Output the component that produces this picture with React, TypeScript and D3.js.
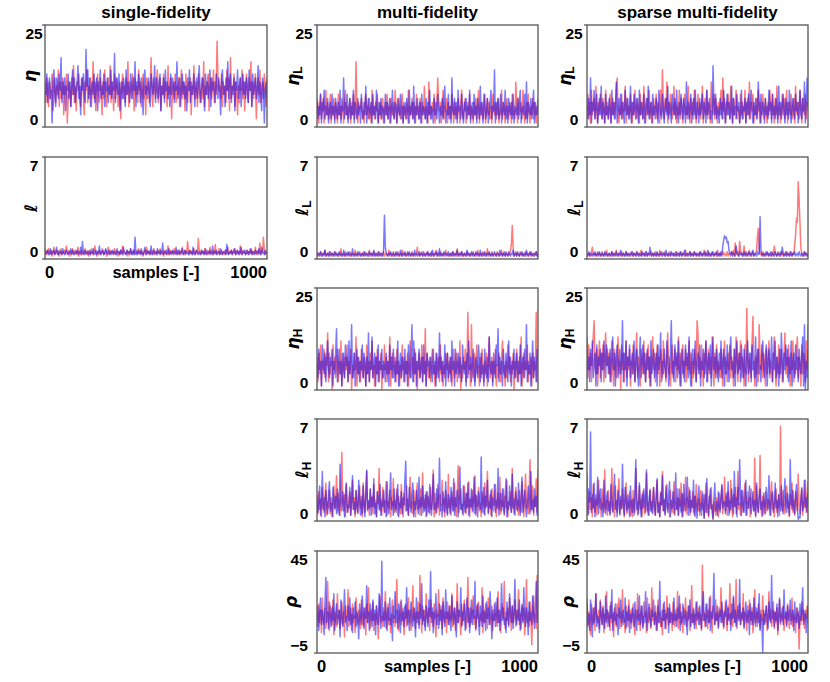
import * as d3 from 'd3';

// ---- data (250 draws per chain, two chains per panel) ----
const X_TICKS = [0, 1000];
const ETA_TICKS = [0, 25];
const ELL_TICKS = [0, 7];
const RHO_TICKS = [-5, 45];
const TITLES = ['single-fidelity', 'multi-fidelity', 'sparse multi-fidelity'];

// single-fidelity
const sfEtaRed = [
  9, 6, 12, 8, 5, 11, 7, 10, 13, 4, 9, 12, 6, 10, 8, 14, 5, 11, 7, 9, 12, 3, 10, 8, 13,
  1, 7, 11, 9, 5, 12, 8, 15, 6, 10, 4, 11, 9, 13, 7, 5, 10, 12, 8, 3, 11, 9, 14, 6, 10,
  8, 12, 5, 9, 16, 7, 11, 4, 10, 13, 8, 6, 12, 9, 3, 11, 7, 14, 10, 5, 9, 12, 8, 15, 6,
  11, 9, 4, 13, 7, 10, 12, 5, 8, 11, 2, 9, 13, 7, 10, 6, 12, 8, 16, 5, 11, 9, 7, 13, 10,
  4, 12, 8, 10, 6, 14, 9, 11, 5, 8, 13, 7, 10, 3, 12, 9, 11, 6, 10, 17, 8, 5, 12, 9, 7,
  11, 14, 6, 9, 12, 4, 10, 8, 13, 7, 11, 9, 5, 15, 8, 10, 12, 2, 9, 11, 7, 13, 6, 10, 8,
  12, 5, 9, 14, 7, 11, 10, 4, 13, 8, 6, 11, 9, 12, 3, 10, 8, 15, 7, 11, 9, 5, 13, 10, 6,
  9, 12, 7, 16, 5, 10, 8, 11, 13, 4, 9, 12, 7, 10, 14, 6, 11, 8, 21, 12, 9, 10, 7, 13, 5,
  11, 8, 10, 6, 14, 9, 12, 4, 17, 7, 10, 9, 13, 5, 11, 8, 3, 10, 6, 12, 9, 14, 7, 11, 4,
  10, 13, 8, 6, 12, 9, 16, 5, 11, 7, 10, 13, 2, 9, 12, 8, 14, 6, 10, 11, 7, 13, 9, 5, 12,
];
const sfEtaBlue = [
  11, 8, 13, 6, 10, 12, 7, 9, 1, 11, 14, 8, 5, 12, 10, 7, 13, 9, 17, 6, 11, 8, 12, 4, 10,
  9, 13, 7, 11, 5, 10, 14, 8, 12, 6, 9, 11, 15, 7, 10, 3, 12, 9, 13, 8, 6, 19, 10, 14, 7,
  12, 5, 9, 11, 8, 13, 6, 10, 12, 4, 11, 9, 14, 7, 10, 8, 13, 5, 11, 9, 12, 6, 10, 8, 14,
  7, 11, 9, 18, 6, 12, 10, 8, 13, 4, 9, 11, 7, 12, 10, 5, 14, 8, 11, 9, 6, 13, 10, 7, 12,
  9, 16, 5, 11, 8, 13, 10, 6, 12, 9, 3, 11, 14, 8, 10, 7, 12, 9, 5, 13, 11, 8, 10, 15, 6,
  12, 9, 7, 11, 13, 4, 10, 8, 12, 6, 14, 9, 11, 7, 10, 5, 13, 8, 12, 10, 6, 11, 9, 16, 7,
  10, 12, 5, 9, 13, 8, 11, 7, 10, 4, 12, 9, 14, 6, 11, 8, 10, 13, 5, 9, 12, 7, 11, 15, 8,
  6, 10, 12, 9, 4, 13, 8, 11, 7, 10, 14, 5, 12, 9, 11, 8, 6, 13, 10, 7, 12, 9, 3, 11, 14,
  8, 10, 5, 12, 9, 16, 7, 11, 13, 6, 10, 8, 12, 4, 11, 9, 14, 7, 10, 12, 5, 9, 13, 8, 11,
  7, 12, 10, 6, 14, 9, 11, 5, 13, 8, 10, 12, 7, 9, 15, 6, 11, 8, 4, 12, 10, 1, 9, 11, 7,
];
const sfEllRed = [
  0.4, 0.6, 0.3, 0.5, 0.7, 0.3, 0.4, 0.6, 0.2, 0.5, 0.8, 0.3, 0.4, 0.6, 0.3, 0.5, 0.2, 0.4, 0.7, 0.3, 0.5, 0.4, 0.6, 0.3, 0.9,
  0.4, 0.3, 0.6, 0.2, 0.5, 0.4, 0.7, 0.3, 0.5, 0.6, 0.3, 0.4, 0.8, 0.2, 0.5, 0.3, 0.6, 0.4, 0.3, 0.5, 0.7, 0.3, 0.4, 0.6, 0.2,
  0.5, 0.3, 0.7, 0.4, 0.3, 0.6, 0.9, 0.4, 0.2, 0.5, 0.3, 0.6, 0.4, 0.3, 0.7, 0.5, 0.3, 0.4, 0.6, 0.2, 0.5, 0.8, 0.3, 0.4, 0.6,
  0.3, 0.5, 0.4, 0.7, 0.3, 0.6, 0.4, 0.2, 0.5, 0.3, 0.6, 0.4, 0.9, 0.3, 0.5, 0.4, 0.3, 0.6, 0.2, 0.5, 0.4, 0.7, 0.3, 0.5, 0.4,
  0.6, 0.3, 0.4, 0.5, 0.3, 0.7, 0.4, 0.6, 0.3, 0.5, 0.2, 0.4, 0.6, 0.3, 0.8, 0.4, 0.5, 0.3, 0.6, 0.4, 0.3, 0.5, 0.7, 0.3, 0.4,
  0.5, 0.3, 0.6, 0.4, 0.7, 0.3, 0.5, 0.4, 0.2, 0.6, 0.4, 0.3, 0.5, 0.9, 0.3, 0.4, 0.6, 0.3, 0.5, 0.4, 0.7, 0.3, 0.4, 0.6, 0.3,
  0.4, 0.6, 0.3, 0.5, 0.8, 0.4, 0.3, 0.6, 0.4, 0.5, 1.2, 0.4, 0.3, 0.6, 0.4, 0.5, 0.3, 0.7, 0.4, 0.3, 0.6, 0.4, 1.4, 0.5, 0.3,
  0.6, 0.4, 0.5, 0.3, 0.7, 0.4, 0.3, 0.6, 0.5, 0.3, 0.8, 0.4, 0.5, 0.3, 0.6, 0.4, 1.0, 0.3, 0.5, 0.4, 0.7, 0.3, 0.4, 0.6, 0.3,
  0.5, 0.4, 0.3, 0.6, 0.4, 0.8, 0.3, 0.5, 0.4, 0.6, 0.3, 0.5, 0.7, 0.4, 0.3, 0.6, 0.4, 0.5, 0.3, 0.9, 0.4, 0.3, 0.6, 0.5, 0.4,
  0.3, 0.6, 0.4, 0.5, 0.3, 0.7, 0.4, 0.6, 0.3, 0.5, 0.4, 0.8, 0.3, 0.5, 0.6, 0.4, 1.1, 0.3, 0.5, 0.4, 1.5, 0.6, 0.3, 0.4, 0.5,
];
const sfEllBlue = [
  0.3, 0.5, 0.4, 0.6, 0.3, 0.4, 0.7, 0.3, 0.5, 0.4, 0.6, 0.3, 0.5, 0.8, 0.4, 0.3, 0.6, 0.4, 0.5, 0.3, 0.7, 0.4, 0.3, 0.5, 0.6,
  0.4, 0.3, 0.5, 0.4, 0.7, 0.3, 0.6, 0.4, 0.3, 0.5, 0.4, 0.6, 0.3, 0.5, 0.4, 0.8, 0.3, 1.2, 0.4, 0.3, 0.6, 0.4, 0.5, 0.3, 0.4,
  0.6, 0.3, 0.5, 0.4, 0.7, 0.3, 0.4, 0.6, 0.3, 0.5, 0.4, 0.9, 0.3, 0.5, 0.4, 0.6, 0.3, 0.4, 0.7, 0.5, 0.3, 0.4, 0.6, 0.3, 0.5,
  0.4, 0.6, 0.3, 0.5, 0.4, 0.3, 0.7, 0.4, 0.5, 0.3, 0.6, 0.4, 0.3, 0.8, 0.5, 0.4, 0.3, 0.6, 0.4, 0.5, 0.3, 0.7, 0.4, 0.3, 0.6,
  0.3, 1.5, 0.4, 0.3, 0.6, 0.4, 0.5, 0.3, 0.7, 0.4, 0.3, 0.5, 0.8, 0.4, 0.3, 0.6, 0.4, 0.5, 0.3, 0.9, 0.4, 0.3, 0.6, 0.4, 0.5,
  0.3, 0.7, 0.4, 0.5, 0.3, 0.6, 0.4, 1.1, 0.3, 0.5, 0.4, 0.6, 0.3, 0.4, 0.7, 0.3, 0.5, 0.4, 0.6, 0.3, 0.5, 0.4, 0.8, 0.3, 0.4,
  0.6, 0.3, 0.5, 0.4, 0.7, 0.3, 0.4, 0.6, 0.3, 0.5, 0.4, 0.3, 0.6, 0.4, 0.5, 0.3, 0.8, 0.4, 0.3, 0.5, 0.6, 0.4, 0.3, 0.5, 0.4,
  0.3, 0.6, 0.4, 0.5, 0.3, 0.7, 0.4, 0.3, 0.5, 0.4, 0.6, 0.3, 0.4, 0.9, 0.3, 0.5, 0.4, 0.6, 0.3, 0.4, 0.5, 0.3, 0.7, 0.4, 0.3,
  0.5, 0.4, 0.6, 0.3, 1.0, 0.4, 0.3, 0.5, 0.4, 0.6, 0.3, 0.5, 0.4, 0.7, 0.3, 0.4, 0.6, 0.3, 0.5, 0.4, 0.8, 0.3, 0.5, 0.4, 0.6,
  0.3, 0.4, 0.6, 0.3, 0.5, 0.4, 0.7, 0.3, 0.5, 0.4, 0.3, 0.6, 0.4, 0.5, 0.3, 0.7, 0.4, 0.3, 0.8, 0.5, 0.4, 0.3, 0.6, 0.4, 0.5,
];

// multi-fidelity
const mfEtaLRed = [
  3, 6, 1, 5, 8, 2, 4, 7, 1, 5, 9, 3, 6, 2, 4, 8, 1, 5, 3, 7, 2, 6, 4, 1, 8,
  3, 5, 2, 7, 4, 1, 6, 9, 3, 5, 2, 4, 7, 1, 6, 3, 8, 2, 5, 16, 3, 1, 6, 4, 5,
  7, 2, 4, 1, 6, 8, 3, 5, 2, 7, 4, 1, 9, 3, 5, 2, 6, 4, 8, 1, 3, 6, 2, 5, 7,
  1, 4, 6, 3, 8, 2, 5, 1, 7, 4, 3, 6, 2, 9, 5, 1, 4, 7, 3, 2, 6, 8, 1, 5, 3,
  6, 2, 4, 9, 1, 5, 3, 7, 2, 6, 4, 1, 8, 3, 5, 2, 7, 4, 1, 6, 3, 10, 2, 5, 4,
  1, 11, 3, 5, 2, 6, 4, 8, 1, 3, 5, 12, 7, 4, 6, 1, 3, 9, 2, 5, 4, 7, 1, 6, 3,
  5, 2, 8, 4, 1, 6, 3, 5, 2, 7, 4, 1, 6, 9, 3, 2, 5, 7, 1, 4, 6, 3, 8, 2, 5,
  4, 1, 6, 3, 7, 2, 5, 9, 1, 4, 6, 3, 2, 8, 5, 1, 4, 7, 3, 6, 2, 5, 1, 8, 4,
  3, 6, 2, 5, 7, 1, 4, 3, 9, 2, 6, 5, 1, 4, 7, 3, 2, 6, 5, 1, 8, 3, 4, 2, 11,
  5, 1, 7, 3, 4, 6, 2, 9, 5, 1, 3, 6, 2, 8, 4, 1, 5, 3, 7, 2, 6, 4, 1, 5, 3,
];
const mfEtaLBlue = [
  7, 2, 5, 3, 8, 1, 6, 4, 9, 2, 5, 3, 7, 1, 4, 6, 2, 8, 3, 5, 1, 7, 4, 2, 6,
  3, 9, 1, 5, 4, 12, 2, 6, 3, 8, 1, 4, 7, 2, 5, 3, 9, 1, 6, 4, 2, 7, 3, 5, 1,
  8, 4, 2, 6, 3, 10, 1, 5, 7, 2, 4, 6, 1, 8, 3, 5, 2, 9, 4, 1, 6, 3, 7, 2, 5,
  4, 1, 8, 3, 6, 2, 5, 7, 1, 4, 9, 3, 2, 6, 5, 1, 7, 4, 3, 8, 2, 5, 1, 6, 4,
  2, 7, 5, 1, 9, 3, 4, 6, 2, 10, 1, 5, 3, 7, 4, 2, 6, 1, 8, 3, 5, 4, 2, 7, 1,
  6, 3, 9, 2, 5, 4, 1, 7, 3, 6, 2, 8, 4, 1, 5, 3, 7, 2, 6, 10, 1, 4, 3, 8, 2,
  5, 1, 12, 4, 3, 7, 2, 6, 1, 9, 4, 5, 2, 8, 3, 1, 6, 4, 7, 2, 5, 3, 9, 1, 4,
  6, 2, 8, 3, 5, 1, 7, 4, 2, 10, 3, 6, 1, 5, 8, 2, 4, 7, 1, 3, 6, 9, 2, 5, 4,
  14, 1, 6, 3, 7, 2, 5, 8, 1, 4, 6, 3, 9, 2, 5, 1, 7, 4, 3, 6, 2, 8, 1, 5, 4,
  3, 7, 2, 6, 9, 1, 4, 5, 3, 8, 2, 11, 1, 6, 4, 3, 7, 2, 5, 9, 1, 6, 3, 4, 7,
];
const mfEllLRed = [
  0.3, 0.2, 0.4, 0.3, 0.5, 0.2, 0.3, 0.4, 0.2, 0.6, 0.3, 0.2, 0.4, 0.3, 0.2, 0.5, 0.3, 0.4, 0.2, 0.3, 0.5, 0.2, 0.4, 0.3, 0.2,
  0.4, 0.3, 0.7, 0.2, 0.3, 0.4, 0.2, 0.5, 0.3, 0.2, 0.4, 0.3, 0.5, 0.2, 0.3, 0.4, 0.2, 0.3, 0.6, 0.2, 0.4, 0.3, 0.2, 0.5, 0.3,
  0.2, 0.4, 0.3, 0.2, 0.5, 0.3, 0.4, 0.2, 0.3, 0.6, 0.2, 0.3, 0.4, 0.2, 0.5, 0.3, 0.2, 0.4, 0.3, 0.2, 0.5, 0.3, 0.4, 0.2, 0.3,
  0.5, 0.2, 0.3, 0.4, 0.2, 0.3, 0.6, 0.2, 0.4, 0.3, 0.2, 0.5, 0.3, 0.2, 0.4, 0.3, 0.5, 0.2, 0.3, 0.4, 0.2, 0.6, 0.3, 0.2, 0.4,
  0.3, 0.2, 0.5, 0.3, 0.4, 0.2, 0.3, 0.5, 0.2, 0.4, 0.3, 0.2, 0.4, 0.8, 0.3, 0.2, 0.4, 0.3, 0.5, 0.2, 0.3, 0.4, 0.2, 0.3, 0.5,
  0.2, 0.4, 0.3, 0.2, 0.5, 0.3, 0.2, 0.4, 0.3, 0.6, 0.2, 0.3, 0.4, 0.2, 0.5, 0.3, 0.2, 0.4, 0.3, 0.2, 0.6, 0.3, 0.4, 0.2, 0.3,
  0.4, 0.2, 0.3, 0.5, 0.2, 0.4, 0.3, 0.2, 0.7, 0.3, 0.2, 0.4, 0.3, 0.5, 0.2, 0.3, 0.4, 0.2, 0.3, 0.5, 0.2, 0.4, 0.3, 0.2, 0.4,
  0.3, 0.5, 0.2, 0.3, 0.4, 0.2, 0.6, 0.3, 0.2, 0.4, 0.3, 0.2, 0.5, 0.3, 0.4, 0.2, 0.3, 0.7, 0.2, 0.4, 0.3, 0.2, 0.5, 0.3, 0.2,
  0.4, 0.3, 0.2, 0.5, 0.3, 0.4, 0.2, 0.3, 0.6, 0.2, 0.4, 0.3, 0.2, 0.5, 0.3, 0.2, 0.4, 0.3, 0.6, 1.0, 2.3, 0.8, 0.2, 0.3, 0.5,
  0.2, 0.4, 0.3, 0.2, 0.5, 0.3, 0.2, 0.4, 0.3, 0.2, 0.5, 0.3, 0.4, 0.2, 0.3, 0.5, 0.2, 0.4, 0.3, 0.2, 0.4, 0.3, 0.5, 0.2, 0.3,
];
const mfEllLBlue = [
  0.2, 0.4, 0.3, 0.2, 0.5, 0.3, 0.2, 0.4, 0.3, 0.6, 0.2, 0.3, 0.4, 0.2, 0.5, 0.3, 0.2, 0.4, 0.3, 0.2, 0.5, 0.3, 0.4, 0.2, 0.3,
  0.5, 0.2, 0.4, 0.3, 0.2, 0.6, 0.3, 0.2, 0.4, 0.3, 0.5, 0.2, 0.3, 0.4, 0.2, 0.7, 0.3, 0.2, 0.4, 0.3, 0.2, 0.5, 0.3, 0.4, 0.2,
  0.3, 0.4, 0.2, 0.5, 0.3, 0.2, 0.4, 0.3, 0.2, 0.5, 0.3, 0.4, 0.2, 0.3, 0.6, 0.2, 0.4, 0.3, 0.2, 0.5, 0.3, 0.2, 0.4, 0.3, 0.2,
  0.6, 3.0, 0.8, 0.4, 0.3, 0.2, 0.4, 0.3, 0.5, 0.2, 0.3, 0.4, 0.2, 0.3, 0.5, 0.2, 0.4, 0.3, 0.2, 0.6, 0.3, 0.2, 0.4, 0.3, 0.5,
  0.2, 0.3, 0.4, 0.2, 0.5, 0.3, 0.2, 0.4, 0.3, 0.2, 0.6, 0.3, 0.4, 0.2, 0.3, 0.5, 0.2, 0.4, 0.3, 0.2, 0.5, 0.3, 0.2, 0.4, 0.3,
  0.5, 0.2, 0.3, 0.4, 0.2, 0.6, 0.3, 0.2, 0.4, 0.3, 0.5, 0.2, 0.3, 0.7, 0.2, 0.4, 0.3, 0.2, 0.5, 0.3, 0.4, 0.2, 0.3, 0.5, 0.2,
  0.3, 0.4, 0.2, 0.5, 0.3, 0.2, 0.4, 0.3, 0.6, 0.2, 0.3, 0.4, 0.2, 0.5, 0.3, 0.2, 0.4, 0.3, 0.2, 0.6, 0.3, 0.4, 0.2, 0.3, 0.5,
  0.2, 0.4, 0.3, 0.2, 0.5, 0.3, 0.4, 0.2, 0.3, 0.6, 0.2, 0.4, 0.3, 0.2, 0.5, 0.3, 0.2, 0.4, 0.3, 0.5, 0.2, 0.3, 0.4, 0.2, 0.3,
  0.5, 0.3, 0.2, 0.4, 0.3, 0.2, 0.6, 0.3, 0.4, 0.2, 0.3, 0.5, 0.2, 0.4, 0.3, 0.2, 0.5, 0.3, 0.2, 0.4, 0.3, 0.6, 0.2, 0.3, 0.4,
  0.2, 0.5, 0.3, 0.2, 0.4, 0.3, 0.5, 0.2, 0.3, 0.4, 0.2, 0.6, 0.3, 0.2, 0.4, 0.3, 0.5, 0.2, 0.3, 0.4, 0.2, 0.3, 0.5, 0.2, 0.4,
];
const mfEtaHRed = [
  6, 2, 9, 4, 11, 1, 7, 5, 10, 3, 8, 6, 14, 2, 9, 4, 7, 0, 11, 5, 8, 3, 6, 10, 2,
  7, 4, 12, 1, 6, 9, 3, 8, 5, 11, 2, 7, 4, 10, 0, 6, 3, 9, 5, 13, 1, 8, 4, 7, 2,
  10, 5, 3, 8, 6, 1, 11, 4, 7, 2, 9, 5, 12, 3, 6, 1, 8, 4, 10, 2, 7, 5, 9, 0, 6,
  3, 11, 5, 8, 2, 7, 4, 13, 1, 6, 9, 3, 5, 8, 2, 10, 4, 7, 1, 6, 3, 11, 5, 8, 2,
  7, 4, 9, 1, 6, 12, 3, 5, 8, 2, 10, 4, 7, 0, 6, 9, 3, 5, 11, 2, 8, 4, 15, 1, 9,
  5, 3, 8, 2, 7, 10, 4, 6, 1, 9, 3, 5, 8, 2, 11, 4, 7, 1, 6, 3, 9, 5, 9, 2, 7,
  4, 8, 1, 6, 10, 3, 5, 9, 2, 7, 4, 12, 0, 6, 3, 8, 5, 10, 2, 7, 19, 4, 6, 1, 16,
  5, 3, 9, 2, 7, 11, 4, 6, 1, 8, 3, 10, 5, 2, 7, 4, 9, 1, 6, 13, 3, 5, 8, 2, 7,
  4, 10, 1, 6, 3, 9, 5, 2, 8, 12, 4, 6, 1, 7, 3, 11, 5, 8, 2, 6, 4, 9, 0, 7, 3,
  10, 5, 2, 8, 4, 13, 1, 6, 9, 3, 7, 5, 11, 2, 6, 4, 8, 1, 9, 3, 7, 5, 19, 2, 6,
];
const mfEtaHBlue = [
  8, 3, 10, 5, 7, 1, 11, 6, 4, 9, 2, 7, 12, 5, 3, 8, 6, 10, 1, 7, 4, 9, 15, 2, 6,
  10, 4, 7, 1, 9, 5, 3, 11, 6, 8, 2, 12, 4, 7, 16, 3, 5, 9, 1, 6, 10, 4, 8, 2, 7,
  5, 11, 3, 9, 6, 1, 8, 4, 14, 2, 7, 5, 13, 3, 6, 9, 1, 8, 4, 11, 2, 7, 5, 10, 3,
  7, 6, 2, 9, 4, 7, 1, 11, 5, 8, 3, 10, 6, 2, 7, 4, 12, 1, 5, 9, 3, 8, 6, 2, 10,
  4, 7, 1, 11, 5, 3, 8, 16, 2, 12, 4, 9, 1, 7, 5, 10, 3, 6, 8, 2, 11, 4, 7, 1, 9,
  6, 7, 3, 8, 5, 2, 10, 4, 7, 1, 9, 6, 3, 14, 5, 8, 2, 7, 4, 11, 1, 6, 9, 3, 5,
  8, 2, 12, 5, 7, 1, 10, 4, 6, 9, 3, 8, 5, 2, 11, 6, 4, 7, 1, 9, 3, 12, 5, 8, 2,
  6, 10, 4, 1, 8, 5, 3, 11, 7, 2, 9, 4, 6, 1, 10, 5, 3, 8, 2, 13, 6, 4, 7, 1, 9,
  5, 3, 11, 6, 15, 2, 8, 4, 7, 1, 10, 5, 3, 9, 6, 2, 12, 4, 8, 1, 7, 5, 10, 3, 6,
  9, 2, 7, 4, 11, 1, 6, 8, 3, 10, 5, 16, 2, 7, 4, 9, 1, 6, 12, 3, 8, 5, 2, 10, 7,
];
const mfEllHRed = [
  1.2, 0.5, 2.0, 0.8, 1.5, 0.3, 2.3, 1.0, 0.6, 1.7, 2.6, 0.4, 1.3, 0.9, 2.1, 0.5, 1.6, 1.1, 0.3, 2.4, 0.8, 1.4, 3.1, 0.6, 1.9,
  1.0, 0.4, 2.2, 4.7, 1.2, 0.7, 1.8, 0.3, 2.5, 1.1, 0.6, 1.5, 2.0, 0.4, 1.3, 2.8, 0.8, 1.6, 0.3, 2.1, 1.0, 0.5, 1.7, 2.4, 0.9,
  1.4, 0.3, 2.6, 1.1, 0.6, 1.9, 3.4, 0.8, 1.3, 0.4, 2.2, 1.0, 1.7, 0.5, 2.5, 0.9, 1.4, 0.3, 2.0, 1.2, 3.6, 0.7, 1.5, 0.4, 2.3,
  1.1, 0.6, 1.8, 2.7, 0.4, 1.3, 0.9, 2.1, 0.3, 1.6, 1.0, 2.9, 0.6, 1.4, 0.8, 2.2, 0.4, 1.7, 1.2, 0.5, 2.5, 1.0, 0.3, 1.9, 1.3,
  0.7, 2.4, 1.1, 0.4, 1.6, 3.0, 0.9, 1.3, 0.5, 2.1, 1.2, 0.3, 1.8, 2.6, 0.8, 1.4, 0.4, 2.2, 1.0, 3.3, 0.6, 1.5, 0.9, 2.0, 0.4,
  1.7, 1.1, 0.5, 2.3, 0.8, 1.4, 3.5, 0.3, 1.9, 1.0, 0.6, 2.5, 1.3, 0.4, 1.8, 1.1, 2.8, 0.7, 1.5, 0.3, 2.1, 1.2, 0.5, 3.2, 0.9,
  1.6, 0.4, 2.0, 1.2, 0.7, 2.6, 1.0, 0.3, 1.8, 3.8, 0.6, 1.4, 2.2, 0.8, 1.1, 0.4, 2.4, 1.3, 0.5, 1.9, 1.0, 2.7, 0.3, 1.5, 0.9,
  2.1, 0.6, 1.3, 3.1, 0.4, 1.7, 1.0, 2.3, 0.7, 1.2, 0.3, 2.0, 1.5, 0.5, 2.6, 0.9, 1.4, 3.4, 0.6, 1.1, 1.8, 0.4, 2.2, 1.0, 0.7,
  1.5, 2.5, 0.3, 1.2, 1.9, 0.8, 3.0, 0.5, 1.4, 1.0, 2.2, 0.4, 1.7, 0.9, 2.8, 0.3, 1.3, 1.1, 2.0, 0.6, 3.6, 1.0, 0.5, 1.6, 2.3,
  0.8, 1.4, 0.4, 2.1, 1.1, 0.6, 2.7, 1.3, 0.3, 1.8, 3.2, 0.9, 1.5, 0.5, 2.0, 4.2, 0.7, 1.2, 2.4, 0.4, 1.6, 1.0, 2.9, 0.6, 3.5,
];
const mfEllHBlue = [
  1.8, 0.6, 1.3, 2.4, 0.4, 1.1, 3.4, 0.8, 1.6, 0.3, 2.1, 1.0, 0.5, 1.9, 2.7, 0.7, 1.2, 0.3, 2.3, 1.4, 0.9, 1.7, 0.5, 2.2, 1.0,
  0.4, 3.9, 1.2, 0.7, 2.0, 1.4, 0.3, 1.8, 2.6, 0.6, 1.1, 0.9, 2.3, 0.4, 1.5, 3.1, 0.8, 1.3, 0.5, 2.1, 1.0, 0.6, 2.8, 1.2, 0.4,
  1.7, 0.5, 2.4, 1.1, 0.3, 1.9, 3.5, 0.7, 1.4, 0.9, 2.2, 0.4, 1.6, 1.0, 2.9, 0.5, 1.2, 0.3, 2.0, 1.5, 0.8, 2.5, 0.4, 1.3, 1.0,
  2.1, 0.6, 1.4, 0.3, 2.7, 1.1, 0.5, 1.8, 3.3, 0.8, 1.3, 0.4, 2.2, 1.0, 0.6, 1.7, 2.5, 0.3, 1.2, 0.9, 2.0, 0.5, 1.6, 1.1, 2.8,
  4.1, 0.7, 1.5, 0.4, 2.3, 1.0, 0.6, 1.9, 2.6, 0.3, 1.3, 0.8, 2.1, 1.2, 0.5, 3.0, 0.9, 1.6, 0.4, 2.4, 1.1, 0.7, 1.8, 0.3, 2.0,
  1.4, 0.6, 2.5, 1.0, 0.4, 1.7, 3.2, 0.8, 1.2, 0.5, 2.2, 0.9, 1.5, 4.3, 0.7, 1.1, 0.3, 2.0, 1.4, 0.6, 2.7, 1.0, 0.4, 1.8, 1.2,
  0.5, 2.3, 1.3, 0.7, 2.9, 0.4, 1.6, 1.0, 2.1, 0.3, 1.4, 3.7, 0.8, 1.2, 0.5, 2.4, 1.1, 0.6, 1.9, 0.9, 2.6, 0.4, 1.5, 1.0, 2.2,
  0.7, 1.3, 3.0, 0.5, 1.8, 1.1, 0.3, 2.0, 1.4, 0.8, 4.4, 0.6, 1.2, 2.3, 0.4, 1.7, 1.0, 2.8, 0.5, 1.3, 0.9, 2.1, 0.3, 1.6, 1.1,
  2.5, 0.6, 1.4, 0.9, 3.6, 0.4, 1.2, 1.9, 0.7, 2.2, 1.0, 0.5, 1.7, 2.9, 0.3, 1.3, 0.8, 2.4, 1.1, 0.6, 3.2, 0.9, 1.5, 0.4, 2.0,
  1.2, 0.7, 2.6, 1.0, 0.4, 1.8, 3.0, 0.6, 1.3, 2.1, 0.9, 0.3, 1.6, 2.4, 1.1, 0.5, 3.4, 0.8, 1.4, 0.6, 2.2, 1.0, 1.7, 0.4, 2.8,
];
const mfRhoRed = [
  13, 8, 19, 10, 16, 5, 22, 12, 9, 17, 7, 14, 30, 11, 6, 18, 13, 9, 21, 4, 15, 11, 8, 24, 12,
  16, 7, 13, 20, 9, 15, 3, 18, 11, 14, 26, 8, 12, 17, 6, 19, 10, 13, 5, 22, 14, 9, 16, 11, 7,
  21, 12, 8, 17, 14, 4, 19, 10, 27, 13, 7, 16, 11, 20, 6, 14, 9, 18, 12, 2, 15, 23, 10, 13, 8,
  17, 11, 25, 7, 14, 19, 9, 12, 5, 16, 21, 10, 13, 8, 18, 31, 11, 6, 15, 20, 9, 13, 17, 4, 12,
  19, 8, 14, 22, 10, 16, 6, 13, 28, 11, 17, 7, 15, 12, 20, 9, 33, 14, 5, 18, 11, 16, 8, 24, 13,
  10, 17, 6, 21, 12, 15, 8, 19, 11, 3, 16, 13, 26, 9, 14, 18, 7, 22, 12, 10, 15, 5, 20, 13, 9,
  18, 11, 24, 8, 14, 17, 6, 13, 29, 10, 16, 12, 4, 19, 9, 15, 21, 11, 7, 14, 32, 12, 8, 17, 10,
  15, 23, 9, 13, 6, 18, 12, 20, 8, 14, 11, 27, 5, 16, 10, 19, 13, 7, 22, 15, 9, 12, 18, 6, 14,
  11, 20, 13, 8, 25, 10, 16, 5, 14, 19, 12, 30, 7, 15, 11, 17, 9, 22, 13, 6, 18, 10, 14, 21, 8,
  16, 12, 26, 9, 14, 7, 19, 11, 17, 4, 13, 31, 10, 15, 8, 20, 12, -1, 16, 23, 10, 14, 7, 33, 12,
];
const mfRhoBlue = [
  11, 18, 6, 14, 22, 9, 16, 12, 4, 19, 32, 10, 15, 7, 20, 13, 8, 17, 11, 24, 6, 14, 19, 9, 12,
  16, 3, 21, 12, 8, 15, 26, 10, 13, 6, 18, 11, 22, 9, 14, 5, 17, 12, 20, 8, 15, 11, 2, 19, 13,
  9, 23, 14, 7, 17, 12, 28, 10, 15, 6, 19, 13, 8, 21, 11, 16, 4, 18, 12, 9, 24, 14, 7, 40, 11,
  15, 8, 20, 13, 6, 17, 11, 22, 9, 14, 1, 18, 12, 25, 10, 16, 7, 19, 13, 5, 21, 11, 15, 8, 18,
  12, 27, 9, 16, 6, 14, 20, 11, 8, 17, 13, 3, 22, 10, 15, 7, 19, 12, 29, 9, 16, 11, 6, 18, 14,
  8, 21, 13, 35, 10, 17, 5, 15, 12, 24, 9, 14, 7, 19, 11, 16, 4, 20, 13, 8, 26, 12, 15, 9, 18,
  11, 6, 23, 14, 9, 17, 12, 3, 20, 10, 16, 13, 27, 8, 15, 11, 19, 6, 14, 22, 10, 17, 5, 13, 21,
  9, 16, 12, 30, 7, 14, 19, 11, 4, 18, 13, 8, 23, 10, 15, 6, 20, 12, 17, 9, 25, 14, 2, 16, 11,
  19, 8, 13, 22, 10, 16, 6, 14, 29, 11, 17, 9, 12, 5, 20, 13, 8, 24, 15, 10, 18, 7, 14, 31, 12,
  9, 16, 11, 21, 6, 14, 18, 10, 27, 13, 8, 17, 12, 4, 20, 11, 15, 9, 23, 13, 7, 18, 30, 10, 14,
];

// sparse multi-fidelity
const spEtaLRed = [
  4, 8, 2, 6, 1, 9, 3, 5, 7, 2, 10, 4, 1, 6, 3, 8, 5, 2, 7, 4, 1, 9, 3, 6, 2,
  5, 8, 1, 4, 7, 3, 6, 2, 9, 12, 4, 1, 5, 3, 8, 2, 6, 4, 10, 1, 7, 3, 5, 2, 8,
  4, 1, 6, 3, 9, 5, 2, 7, 4, 1, 8, 3, 6, 2, 10, 5, 1, 4, 7, 3, 9, 2, 6, 4, 1,
  7, 3, 5, 8, 2, 6, 4, 1, 9, 3, 14, 5, 2, 7, 4, 11, 1, 6, 3, 8, 5, 2, 4, 10, 3,
  6, 1, 5, 3, 9, 2, 7, 4, 1, 6, 8, 3, 5, 2, 10, 4, 1, 7, 3, 6, 2, 9, 5, 1, 4,
  8, 3, 6, 2, 5, 10, 1, 4, 7, 3, 9, 2, 6, 4, 1, 11, 5, 3, 8, 2, 7, 4, 1, 6, 3,
  5, 9, 2, 12, 4, 7, 1, 6, 3, 8, 5, 2, 10, 4, 1, 7, 3, 6, 9, 2, 5, 4, 1, 8, 3,
  6, 2, 4, 9, 1, 5, 7, 3, 11, 2, 6, 4, 8, 1, 5, 3, 7, 2, 9, 4, 6, 1, 3, 8, 5,
  2, 7, 4, 1, 6, 3, 9, 5, 2, 8, 4, 1, 7, 3, 10, 2, 5, 6, 1, 4, 8, 3, 7, 2, 5,
  9, 1, 4, 6, 3, 8, 2, 5, 7, 1, 10, 4, 3, 6, 2, 9, 5, 1, 7, 4, 3, 8, 2, 6, 4,
];
const spEtaLBlue = [
  5, 2, 7, 3, 12, 1, 6, 4, 9, 2, 5, 8, 1, 4, 7, 3, 10, 2, 6, 4, 1, 8, 3, 5, 2,
  7, 4, 1, 9, 3, 6, 2, 5, 11, 1, 4, 7, 3, 8, 2, 6, 4, 1, 9, 5, 3, 7, 2, 4, 10,
  1, 6, 3, 8, 4, 2, 7, 5, 1, 9, 3, 6, 4, 2, 8, 1, 5, 7, 3, 10, 2, 4, 6, 1, 8,
  3, 5, 2, 7, 4, 1, 9, 6, 3, 2, 8, 4, 1, 5, 7, 3, 10, 2, 6, 4, 1, 8, 5, 3, 7,
  2, 9, 4, 1, 6, 3, 8, 5, 2, 7, 4, 1, 11, 3, 6, 2, 5, 8, 1, 4, 7, 3, 9, 2, 6,
  4, 1, 7, 3, 5, 8, 2, 6, 4, 1, 9, 3, 5, 7, 2, 4, 1, 15, 6, 3, 8, 2, 5, 4, 1,
  7, 3, 6, 2, 9, 4, 1, 5, 8, 3, 6, 2, 4, 10, 1, 7, 3, 5, 2, 8, 4, 6, 1, 3, 9,
  2, 5, 4, 7, 1, 6, 3, 8, 2, 5, 9, 4, 1, 6, 3, 7, 2, 4, 11, 5, 1, 8, 3, 6, 4,
  1, 7, 3, 5, 2, 9, 4, 6, 1, 8, 3, 5, 2, 7, 4, 1, 10, 3, 6, 2, 5, 8, 4, 1, 7,
  3, 6, 2, 9, 4, 1, 5, 7, 3, 2, 8, 4, 6, 1, 5, 9, 3, 2, 7, 4, 11, 1, 6, 12, 5,
];
const spEllLRed = [
  0.3, 0.2, 0.4, 0.3, 0.2, 0.5, 0.8, 0.3, 0.2, 0.4, 0.3, 0.2, 0.5, 0.3, 0.4, 0.2, 0.3, 0.5, 0.2, 0.3, 0.4, 0.2, 0.6, 0.3, 0.2,
  0.4, 0.3, 0.2, 0.5, 0.3, 0.2, 0.4, 0.3, 0.6, 0.2, 0.3, 0.4, 0.2, 0.3, 0.5, 0.2, 0.4, 0.3, 0.2, 0.5, 0.3, 0.2, 0.4, 0.3, 0.2,
  0.5, 0.3, 0.2, 0.4, 0.3, 0.2, 0.5, 0.3, 0.4, 0.2, 0.3, 0.6, 0.2, 0.3, 0.4, 0.2, 0.5, 0.3, 0.2, 0.4, 0.3, 0.2, 0.5, 0.3, 0.4,
  0.2, 0.3, 0.5, 0.2, 0.4, 0.3, 0.2, 0.6, 0.3, 0.2, 0.4, 0.3, 0.5, 0.2, 0.3, 0.4, 0.2, 0.3, 0.5, 0.2, 0.4, 0.3, 0.2, 0.4, 0.3,
  0.2, 0.5, 0.3, 0.4, 0.2, 0.3, 0.5, 0.2, 0.4, 0.3, 0.2, 0.6, 0.3, 0.2, 0.4, 0.3, 0.5, 0.2, 0.3, 0.4, 0.2, 0.5, 0.3, 0.2, 0.4,
  0.3, 0.2, 0.5, 0.3, 0.4, 0.2, 0.3, 0.6, 0.2, 0.4, 0.3, 0.2, 0.5, 0.3, 0.2, 0.4, 0.3, 0.5, 0.2, 0.3, 0.4, 0.2, 0.6, 0.3, 0.2,
  0.4, 0.3, 0.2, 0.5, 0.3, 0.4, 0.2, 0.3, 0.5, 0.2, 0.4, 0.3, 0.2, 0.5, 0.3, 0.6, 0.2, 1.1, 0.4, 0.3, 0.5, 0.2, 1.2, 0.6, 0.3,
  0.4, 0.2, 0.9, 0.3, 0.5, 0.2, 0.4, 0.3, 0.6, 0.2, 0.3, 0.5, 0.4, 0.2, 0.3, 0.4, 0.6, 1.5, 2.1, 0.7, 0.3, 0.4, 0.2, 0.5, 0.3,
  0.2, 0.4, 0.3, 0.5, 0.2, 0.3, 0.4, 0.2, 0.3, 0.5, 0.2, 0.9, 0.4, 0.3, 0.2, 0.5, 0.3, 0.4, 0.2, 0.3, 0.5, 0.2, 0.4, 0.3, 0.2,
  0.5, 0.3, 0.4, 0.2, 0.3, 0.5, 0.2, 0.4, 0.3, 1.0, 1.6, 2.8, 2.5, 5.3, 4.0, 2.4, 0.7, 0.4, 0.2, 0.3, 0.5, 0.2, 0.4, 0.3, 0.2,
];
const spEllLBlue = [
  0.2, 0.3, 0.5, 0.2, 0.4, 0.3, 0.2, 0.4, 0.3, 0.5, 0.2, 0.3, 0.4, 0.2, 0.5, 0.3, 0.2, 0.4, 0.3, 0.2, 0.5, 0.3, 0.4, 0.2, 0.3,
  0.4, 0.2, 0.3, 0.5, 0.2, 0.4, 0.3, 0.2, 0.5, 0.3, 0.2, 0.4, 0.3, 0.6, 0.2, 0.3, 0.4, 0.2, 0.3, 0.5, 0.2, 0.4, 0.3, 0.2, 0.4,
  0.3, 0.5, 0.2, 0.4, 0.3, 0.2, 0.5, 0.3, 0.2, 0.4, 0.3, 0.2, 0.5, 0.3, 0.4, 0.2, 0.3, 0.5, 0.2, 0.4, 0.3, 0.8, 0.3, 0.2, 0.4,
  0.2, 0.4, 0.3, 0.2, 0.5, 0.3, 0.2, 0.4, 0.3, 0.5, 0.2, 0.3, 0.4, 0.2, 0.6, 0.3, 0.2, 0.4, 0.3, 0.2, 0.5, 0.3, 0.4, 0.2, 0.3,
  0.5, 0.2, 0.3, 0.4, 0.2, 0.5, 0.3, 0.2, 0.4, 0.3, 0.6, 0.2, 0.3, 0.4, 0.2, 0.3, 0.5, 0.2, 0.4, 0.3, 0.2, 0.5, 0.3, 0.4, 0.2,
  0.3, 0.4, 0.2, 0.5, 0.3, 0.2, 0.4, 0.3, 0.5, 0.2, 0.3, 0.6, 0.2, 0.4, 0.3, 0.2, 0.5, 0.3, 0.2, 0.4, 0.3, 0.5, 0.2, 0.3, 0.4,
  0.2, 0.5, 0.3, 0.9, 1.3, 1.6, 1.4, 1.5, 1.1, 1.2, 0.6, 0.4, 0.3, 0.5, 0.2, 0.4, 0.3, 0.2, 0.9, 0.4, 0.3, 0.2, 0.5, 0.3, 0.4,
  0.2, 0.3, 0.5, 0.2, 0.4, 0.3, 0.2, 0.5, 0.3, 0.4, 0.2, 0.3, 0.6, 0.2, 0.4, 0.3, 0.2, 0.5, 0.3, 0.4, 2.9, 0.6, 0.3, 0.2, 0.4,
  0.3, 0.2, 0.5, 0.3, 0.4, 0.2, 0.3, 0.5, 0.2, 0.4, 0.3, 0.2, 0.5, 0.3, 0.2, 0.4, 0.3, 0.2, 0.5, 0.3, 0.8, 0.4, 0.2, 0.3, 0.5,
  0.2, 0.4, 0.3, 0.2, 0.5, 0.3, 0.2, 0.4, 0.3, 0.5, 0.2, 0.3, 0.4, 0.2, 0.5, 0.3, 0.2, 0.4, 0.3, 0.2, 0.5, 0.3, 0.4, 0.2, 0.3,
];
const spEtaHRed = [
  7, 3, 11, 5, 9, 2, 8, 13, 17, 6, 4, 10, 1, 7, 12, 3, 9, 5, 11, 2, 8, 14, 6, 10, 4,
  9, 2, 7, 12, 5, 1, 10, 6, 3, 8, 13, 4, 7, 0, 11, 5, 9, 2, 6, 12, 3, 8, 5, 10, 1,
  7, 4, 11, 6, 2, 9, 14, 3, 8, 5, 1, 10, 7, 4, 12, 6, 2, 9, 5, 11, 3, 8, 1, 7, 13,
  5, 9, 2, 6, 11, 4, 8, 1, 10, 6, 3, 12, 7, 5, 2, 9, 14, 4, 8, 1, 6, 11, 3, 7, 10,
  2, 8, 5, 13, 4, 9, 1, 7, 11, 3, 6, 10, 2, 8, 5, 12, 4, 9, 1, 7, 3, 10, 6, 2, 17,
  14, 5, 8, 3, 11, 6, 1, 9, 4, 12, 7, 2, 10, 5, 8, 3, 13, 6, 1, 9, 4, 11, 3, 7, 5,
  3, 10, 6, 1, 8, 12, 4, 7, 2, 9, 5, 11, 3, 8, 6, 1, 10, 4, 13, 7, 2, 9, 5, 12, 3,
  8, 6, 1, 11, 4, 20, 7, 2, 9, 5, 3, 12, 18, 6, 1, 8, 4, 10, 2, 16, 7, 5, 11, 3, 9,
  6, 1, 10, 4, 8, 12, 3, 7, 5, 2, 9, 13, 6, 1, 8, 4, 11, 3, 7, 10, 2, 5, 9, 14, 4,
  8, 3, 11, 6, 1, 9, 5, 12, 2, 7, 4, 10, 13, 3, 8, 6, 1, 11, 4, 9, 7, 2, 12, 5, 16,
];
const spEtaHBlue = [
  13, 5, 8, 2, 10, 6, 12, 3, 7, 9, 1, 11, 4, 8, 6, 10, 2, 9, 5, 12, 7, 3, 11, 6, 8,
  4, 10, 2, 7, 13, 5, 9, 1, 8, 11, 3, 6, 10, 4, 7, 17, 2, 9, 5, 12, 1, 8, 6, 11, 3,
  7, 9, 4, 12, 2, 6, 10, 5, 1, 8, 13, 3, 7, 11, 4, 9, 2, 6, 10, 5, 8, 1, 12, 4, 7,
  10, 3, 6, 9, 1, 11, 5, 8, 14, 2, 7, 4, 10, 6, 3, 12, 8, 1, 5, 9, 17, 4, 7, 2, 11,
  6, 9, 3, 12, 5, 1, 8, 10, 4, 7, 2, 11, 6, 9, 3, 13, 5, 1, 8, 10, 4, 7, 12, 2, 6,
  9, 4, 11, 1, 7, 5, 10, 3, 8, 12, 2, 6, 9, 4, 11, 1, 7, 13, 5, 8, 3, 10, 6, 2, 9,
  5, 12, 3, 7, 10, 1, 8, 4, 11, 6, 2, 9, 13, 5, 7, 3, 10, 1, 8, 12, 4, 6, 9, 2, 11,
  7, 3, 10, 5, 1, 8, 12, 4, 6, 9, 2, 11, 5, 7, 3, 13, 1, 8, 10, 4, 6, 2, 9, 12, 5,
  3, 8, 11, 1, 6, 10, 4, 7, 13, 2, 9, 5, 12, 3, 8, 6, 1, 10, 4, 14, 7, 2, 9, 5, 11,
  6, 10, 2, 8, 4, 12, 1, 7, 9, 3, 11, 5, 8, 2, 10, 6, 4, 9, 13, 1, 16, 0, 7, 3, 10,
];
const spEllHRed = [
  3.3, 1.2, 0.5, 2.0, 0.8, 1.6, 0.3, 2.5, 1.0, 0.6, 1.8, 0.4, 1.3, 2.8, 0.9, 1.5, 0.3, 2.2, 1.1, 0.6, 3.5, 0.8, 1.4, 0.4, 2.1,
  1.0, 0.5, 1.7, 3.6, 0.7, 1.2, 0.3, 2.4, 1.0, 0.6, 1.9, 2.9, 0.4, 1.5, 0.8, 2.2, 1.1, 0.3, 1.6, 2.6, 0.5, 1.3, 0.9, 2.0, 0.4,
  1.4, 0.3, 2.1, 1.0, 0.6, 3.6, 1.8, 0.4, 1.2, 2.4, 0.8, 1.5, 0.3, 2.0, 1.1, 0.5, 1.7, 3.3, 0.7, 1.3, 0.4, 2.2, 1.0, 0.6, 1.6,
  2.3, 0.9, 0.4, 1.7, 2.8, 0.6, 1.3, 0.3, 2.0, 1.1, 3.4, 0.7, 1.4, 0.5, 1.9, 2.5, 0.8, 1.2, 0.3, 2.1, 1.0, 0.6, 1.6, 2.7, 0.4,
  1.3, 0.8, 2.2, 0.4, 1.5, 1.0, 2.6, 0.3, 1.8, 0.7, 1.2, 3.0, 0.5, 1.6, 0.9, 2.3, 0.4, 1.4, 1.0, 2.0, 0.6, 1.7, 0.3, 2.5, 1.1,
  0.7, 1.5, 0.4, 2.1, 1.2, 0.8, 1.8, 0.2, 1.4, 2.6, 0.6, 1.1, 0.3, 1.7, 0.9, 2.3, 0.5, 0.2, 1.3, 0.8, 0.4, 1.6, 1.0, 0.3, 1.9,
  0.8, 1.4, 2.4, 0.5, 1.2, 3.0, 0.7, 1.7, 0.4, 2.0, 1.1, 0.6, 2.8, 1.3, 0.3, 1.8, 1.0, 2.3, 0.5, 1.5, 3.4, 0.8, 1.2, 0.4, 2.1,
  1.0, 0.6, 1.9, 2.6, 0.4, 1.4, 2.0, 0.9, 1.6, 0.3, 2.2, 1.5, 1.1, 0.7, 4.3, 0.4, 2.4, 1.2, 0.6, 1.5, 4.5, 0.9, 0.3, 1.7, 1.3,
  0.5, 2.0, 1.1, 0.7, 1.5, 1.4, 0.4, 1.9, 2.7, 0.8, 1.2, 0.3, 1.6, 2.2, 0.6, 1.0, 1.8, 0.4, 6.5, 1.3, 0.7, 2.1, 1.0, 0.5, 1.6,
  2.4, 0.9, 1.3, 0.3, 1.8, 1.1, 2.6, 0.6, 1.4, 0.4, 2.0, 1.2, 0.7, 3.2, 1.0, 0.5, 1.7, 2.3, 0.4, 1.3, 0.9, 2.8, 0.6, 1.5, 2.7,
];
const spEllHBlue = [
  1.0, 0.4, 2.2, 1.3, 6.1, 0.6, 1.8, 0.9, 2.6, 0.3, 1.5, 1.1, 3.0, 0.5, 1.7, 2.2, 0.8, 1.2, 0.3, 2.8, 1.0, 0.5, 1.6, 2.0, 0.7,
  1.3, 0.4, 2.5, 1.0, 0.6, 1.9, 3.2, 0.8, 1.4, 0.3, 2.1, 1.2, 0.5, 1.7, 0.9, 3.9, 1.1, 0.4, 2.3, 1.5, 0.7, 1.8, 1.0, 0.3, 2.4,
  1.2, 0.6, 1.5, 0.4, 2.0, 4.2, 0.8, 1.3, 0.5, 2.6, 1.1, 0.3, 1.8, 0.9, 2.2, 1.4, 0.6, 3.5, 1.0, 0.4, 1.6, 2.1, 0.7, 1.3, 0.5,
  2.3, 1.0, 0.4, 1.7, 2.9, 0.6, 1.2, 0.3, 1.9, 1.1, 3.1, 0.7, 1.5, 0.4, 2.4, 1.0, 0.6, 1.8, 2.7, 0.3, 1.4, 0.9, 2.0, 0.5, 1.3,
  3.3, 0.8, 1.6, 0.4, 2.2, 1.1, 0.6, 1.9, 0.3, 2.5, 1.2, 0.7, 1.5, 3.0, 0.4, 1.0, 2.1, 0.6, 1.4, 0.9, 2.8, 0.4, 1.7, 1.1, 0.2,
  1.6, 2.4, 0.7, 1.2, 0.4, 2.0, 1.0, 0.2, 1.8, 0.6, 2.9, 1.3, 0.4, 1.6, 2.2, 0.8, 1.1, 0.1, 1.5, 2.6, 0.7, 1.3, 0.4, 2.0, 1.0,
  0.6, 1.7, 2.5, 0.9, 1.3, 1.3, 0.5, 1.9, 1.0, 2.7, 0.4, 1.4, 0.8, 2.2, 1.2, 0.5, 3.4, 1.0, 1.6, 0.3, 2.3, 1.1, 4.2, 1.8, 0.4,
  2.1, 1.2, 0.6, 1.5, 2.8, 0.4, 1.3, 0.9, 2.4, 1.6, 0.5, 1.1, 2.0, 0.7, 1.4, 0.3, 2.6, 1.0, 0.6, 1.7, 2.2, 0.8, 1.3, 0.4, 1.9,
  1.1, 0.5, 2.3, 1.5, 0.8, 3.1, 1.0, 0.4, 1.7, 2.0, 0.6, 1.2, 2.6, 0.9, 1.4, 0.3, 1.8, 1.1, 0.7, 2.4, 1.0, 0.5, 1.6, 2.9, 1.2,
  0.6, 1.9, 1.1, 0.4, 4.2, 1.3, 0.8, 2.1, 1.0, 0.5, 1.7, 2.5, 0.9, 0.1, 0.3, 0.2, 1.4, 2.2, 0.7, 1.3, 2.8, 1.0, 1.6, 0.6, 1.9,
];
const spRhoRed = [
  22, 8, 15, 11, 4, 19, 13, 9, 17, 6, 24, 12, 10, 16, 7, 21, 13, 9, 18, 5, 14, 11, 25, 8, 15,
  12, 6, 20, 10, 14, 3, 17, 11, 8, 19, 13, 22, 7, 15, 10, 26, 9, 12, 5, 18, 14, 8, 21, 11, 16,
  7, 13, 19, 10, 4, 16, 12, 24, 9, 14, 6, 18, 11, 8, 20, 13, 15, 5, 22, 10, 12, 17, 7, 27, 11,
  14, 9, 18, 6, 13, 21, 10, 15, 8, 12, 4, 19, 11, 16, 7, 23, 13, 9, 17, 10, 14, 6, 20, 12, 8,
  16, 11, 25, 7, 14, 19, 9, 13, 5, 17, 12, 22, 8, 15, 11, 18, 6, 13, 28, 10, 16, 9, 14, 7, 20,
  12, 17, 9, 14, 6, 38, 11, 15, 8, 19, 13, 7, 16, 10, 23, 12, 5, 18, 14, 9, 21, 11, 15, 8, 17,
  13, 27, 10, 16, 7, 14, 20, 11, 6, 18, 12, 29, 9, 15, 8, 22, 13, 10, 31, 7, 16, 12, 19, 9, 14,
  11, 24, 8, 15, 13, 6, 18, 10, 21, 14, 9, 17, 5, 12, 26, 10, 15, 8, 19, 13, 7, 16, 11, 23, 9,
  14, 10, 18, 6, 13, 25, 11, 16, 8, 12, 20, 7, 15, 10, 17, 4, 13, 21, 9, 14, 11, 18, 6, 12, 15,
  9, 19, 13, 7, 16, 11, 22, 8, 14, 12, 5, 17, 10, 15, -3, 13, 9, 20, 11, 16, 7, 14, 12, 18, 10,
];
const spRhoBlue = [
  19, 9, 14, 6, 21, 12, 3, 17, 10, 15, 24, 8, 13, 11, 5, 20, 14, 9, 17, 12, 7, 23, 10, 16, 13,
  8, 18, 12, 26, 6, 15, 11, 19, 9, 14, 4, 17, 12, 21, 8, 13, 16, 10, 22, 7, 15, 11, 18, 5, 14,
  10, 17, 13, 8, 20, 12, 6, 16, 11, 23, 9, 14, 18, 7, 13, 10, 25, 12, 6, 15, 19, 11, 8, 16, 13,
  21, 9, 15, 12, 6, 18, 10, 30, 13, 8, 16, 11, 20, 7, 14, 12, 17, 5, 19, 10, 15, 13, 9, 22, 11,
  14, 8, 17, 12, 23, 6, 15, 10, 19, 13, 9, 16, 11, 4, 18, 12, 21, 8, 14, 10, 17, 7, 13, 20, 11,
  15, 9, 18, 12, 7, 16, 25, 11, 14, 8, 19, 13, 10, 22, 6, 15, 12, 17, 34, 9, 14, 11, 18, 7, 13,
  16, 10, 20, 12, 8, 15, 13, 21, 9, 17, 11, 14, 6, 19, 12, 23, 10, 16, 8, 13, 18, 11, 31, 9, 15,
  12, 17, 7, 14, 20, 10, 13, 16, 4, 19, 11, 15, 9, 22, 12, 8, 17, 13, 10, 24, 6, 14, 11, -5, 16,
  9, 14, 18, 11, 7, 20, 13, 10, 33, 12, 16, 8, 15, 11, 19, 6, 14, 22, 10, 13, 17, 9, 26, 12, 15,
  8, 18, 11, 14, 21, 9, 13, 16, 6, 20, 12, 10, 17, 14, 7, 19, 11, 15, 27, 9, 13, 16, 5, 12, 18,
];

// ---- layout ----
const W = 830;
const H = 682;
const COL_LEFT = [45, 317, 587];
const COL_W = [222, 221, 221];
const ROW_TOP = [25, 157, 288, 419, 551];
const PANEL_H = 102;
const FONT = "'Liberation Sans', Arial, Helvetica, sans-serif";
const SYM_FONT = "'DejaVu Sans', 'Liberation Sans', sans-serif";
const RED = '#ff0000';
const BLUE = '#0000ff';
const SPINE = '#555555';

interface Panel {
  col: number;
  row: number;
  sym: string;
  sub?: string;
  ticks: number[];
  red: number[];
  blue: number[];
  labelDx: number; // baseline of rotated label, relative to left spine
  tickDx: number;  // centre of tick labels, relative to left spine
  xAxis?: boolean;
}

const PANELS: Panel[] = [
  { col: 0, row: 0, sym: 'η', ticks: ETA_TICKS, red: sfEtaRed, blue: sfEtaBlue, labelDx: -9, tickDx: -11 },
  { col: 0, row: 1, sym: 'ℓ', ticks: ELL_TICKS, red: sfEllRed, blue: sfEllBlue, labelDx: -8, tickDx: -11, xAxis: true },
  { col: 1, row: 0, sym: 'η', sub: 'L', ticks: ETA_TICKS, red: mfEtaLRed, blue: mfEtaLBlue, labelDx: -18, tickDx: -13 },
  { col: 1, row: 1, sym: 'ℓ', sub: 'L', ticks: ELL_TICKS, red: mfEllLRed, blue: mfEllLBlue, labelDx: -9, tickDx: -13 },
  { col: 1, row: 2, sym: 'η', sub: 'H', ticks: ETA_TICKS, red: mfEtaHRed, blue: mfEtaHBlue, labelDx: -18, tickDx: -13 },
  { col: 1, row: 3, sym: 'ℓ', sub: 'H', ticks: ELL_TICKS, red: mfEllHRed, blue: mfEllHBlue, labelDx: -9, tickDx: -13 },
  { col: 1, row: 4, sym: 'ρ', ticks: RHO_TICKS, red: mfRhoRed, blue: mfRhoBlue, labelDx: -20, tickDx: -18, xAxis: true },
  { col: 2, row: 0, sym: 'η', sub: 'L', ticks: ETA_TICKS, red: spEtaLRed, blue: spEtaLBlue, labelDx: -16, tickDx: -13 },
  { col: 2, row: 1, sym: 'ℓ', sub: 'L', ticks: ELL_TICKS, red: spEllLRed, blue: spEllLBlue, labelDx: -7, tickDx: -13 },
  { col: 2, row: 2, sym: 'η', sub: 'H', ticks: ETA_TICKS, red: spEtaHRed, blue: spEtaHBlue, labelDx: -16, tickDx: -13 },
  { col: 2, row: 3, sym: 'ℓ', sub: 'H', ticks: ELL_TICKS, red: spEllHRed, blue: spEllHBlue, labelDx: -7, tickDx: -13 },
  { col: 2, row: 4, sym: 'ρ', ticks: RHO_TICKS, red: spRhoRed, blue: spRhoBlue, labelDx: -13, tickDx: -16, xAxis: true },
];

const fmt = (v: number) => (v < 0 ? `\u2212${Math.abs(v)}` : `${v}`);

function TracePanel({ p, id }: { p: Panel; id: number }) {
  const x0 = COL_LEFT[p.col];
  const y0 = ROW_TOP[p.row];
  const w = COL_W[p.col];
  const x = d3.scaleLinear().domain([X_TICKS[0], X_TICKS[1]]).range([x0, x0 + w]);
  const y = d3.scaleLinear().domain([p.ticks[0], p.ticks[1]]).range([y0 + PANEL_H, y0]);
  // chain draws are evenly spread over the 0..1000 sample axis
  const path = (vals: number[]) =>
    d3.line<number>()
      .x((_, i) => x((i / (vals.length - 1)) * X_TICKS[1]))
      .y(d => y(d))(vals) ?? '';
  const clip = `clip-${id}`;
  const [lo, hi] = p.ticks;
  const tx = x0 + p.tickDx;
  const midY = y0 + PANEL_H / 2;

  return (
    <g>
      <defs>
        <clipPath id={clip}>
          <rect x={x0} y={y0} width={w} height={PANEL_H} />
        </clipPath>
      </defs>
      <g clipPath={`url(#${clip})`} fill="none" strokeWidth={1.5} strokeLinejoin="round">
        <path d={path(p.red)} stroke={RED} strokeOpacity={0.52} />
        <path d={path(p.blue)} stroke={BLUE} strokeOpacity={0.52} />
      </g>
      <rect x={x0} y={y0} width={w} height={PANEL_H} fill="none" stroke={SPINE} strokeWidth={1.3} />
      {p.ticks.map(t => (
        <line key={t} x1={x0 - 3} x2={x0} y1={y(t)} y2={y(t)} stroke={SPINE} strokeWidth={1.2} />
      ))}
      <g fontFamily={FONT} fontWeight="bold" fontSize={15.5} fill="#000" textAnchor="middle">
        <text x={tx} y={y(hi) + 8 + 5.5}>{fmt(hi)}</text>
        <text x={tx} y={y(lo) - 8 + 5.5}>{fmt(lo)}</text>
      </g>
      <text
        transform={`translate(${x0 + p.labelDx},${midY}) rotate(-90)`}
        textAnchor="middle"
        fontFamily={SYM_FONT}
        fontWeight="bold"
        fill="#000"
      >
        <tspan fontSize={17} fontStyle="italic">{p.sym}</tspan>
        {p.sub && <tspan fontFamily={FONT} fontSize={12} dy={3}>{p.sub}</tspan>}
      </text>
      {p.xAxis && (
        <g fontFamily={FONT} fontWeight="bold" fontSize={16.5} fill="#000">
          <text x={x(X_TICKS[0])} y={y0 + PANEL_H + 19} textAnchor="start">{X_TICKS[0]}</text>
          <text x={x(X_TICKS[1])} y={y0 + PANEL_H + 19} textAnchor="end">{X_TICKS[1]}</text>
          <text x={x0 + w / 2} y={y0 + PANEL_H + 19} textAnchor="middle">samples [-]</text>
        </g>
      )}
    </g>
  );
}

export default function App() {
  return (
    <svg
      width={W}
      height={H}
      viewBox={`0 0 ${W} ${H}`}
      style={{ position: 'absolute', left: 0, top: 0, background: '#fff' }}
    >
      {TITLES.map((t, i) => (
        <text
          key={t}
          x={COL_LEFT[i] + COL_W[i] / 2}
          y={18}
          textAnchor="middle"
          fontFamily={FONT}
          fontWeight="bold"
          fontSize={17}
        >
          {t}
        </text>
      ))}
      {PANELS.map((p, i) => (
        <TracePanel key={i} p={p} id={i} />
      ))}
    </svg>
  );
}
